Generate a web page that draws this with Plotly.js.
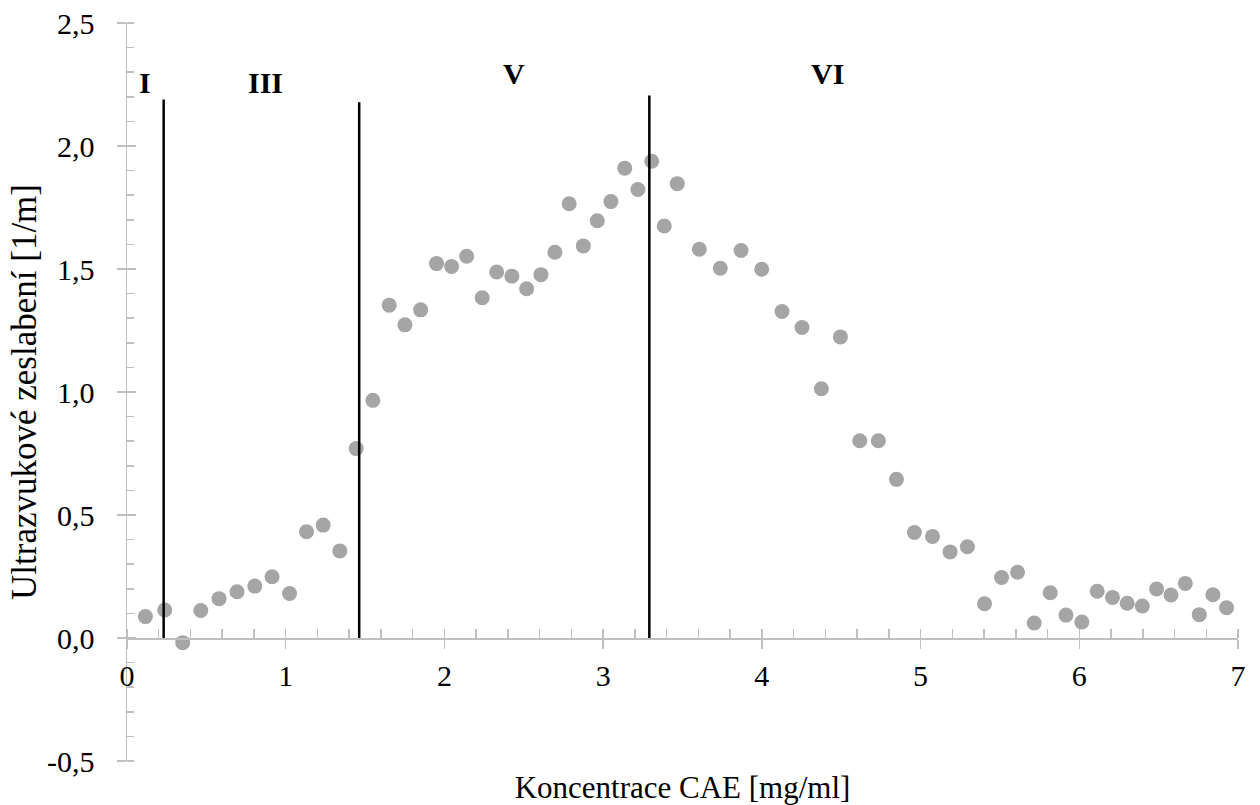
<!DOCTYPE html>
<html><head><meta charset="utf-8">
<script src="https://cdn.plot.ly/plotly-3.0.1.min.js"></script>
<style>html,body{margin:0;padding:0;background:#fff}</style>
</head><body><div id="chart" style="width:1260px;height:805px"></div>
<script>
const concentration = [0.116,0.238,0.351,0.465,0.580,0.693,0.805,0.914,1.024,1.131,1.236,1.341,1.444,1.549,
  1.652,1.751,1.850,1.950,2.045,2.140,2.238,2.329,2.425,2.518,2.608,2.696,2.786,2.875,2.963,3.049,3.136,3.219,3.306,3.385,3.467,
  3.606,3.738,3.869,3.999,4.127,4.253,4.375,4.495,4.617,4.734,4.848,4.961,5.075,5.186,
  5.295,5.403,5.510,5.611,5.716,5.817,5.916,6.016,6.113,6.209,6.302,6.397,6.487,6.578,6.668,6.756,6.842,6.928];
const attenuation = [0.087,0.114,-0.019,0.112,0.160,0.188,0.211,0.249,0.181,0.432,0.459,0.354,0.770,0.966,
  1.353,1.273,1.334,1.522,1.510,1.552,1.383,1.488,1.471,1.420,1.477,1.568,1.765,1.594,1.696,1.774,1.910,1.823,1.938,1.675,1.847,
  1.580,1.503,1.575,1.499,1.327,1.262,1.013,1.224,0.802,0.802,0.645,0.429,0.413,0.350,
  0.371,0.139,0.246,0.267,0.061,0.184,0.093,0.065,0.190,0.165,0.141,0.130,0.199,0.175,0.222,0.095,0.176,0.123];
const boundaryX = [0.231, 1.463, 3.291];
const boundaryTop = [2.189, 2.178, 2.205];
const regionLabels = ['I', 'III', 'V', 'VI'];
const regionLabelX = [0.113, 0.874, 2.438, 4.411];
const regionLabelY = [2.26, 2.26, 2.295, 2.295];
const xTickVals = [0, 1, 2, 3, 4, 5, 6, 7];
const xTickText = ['0', '1', '2', '3', '4', '5', '6', '7'];
const yTickVals = [-0.5, 0, 0.5, 1, 1.5, 2, 2.5];
const yTickText = ['-0,5', '0,0', '0,5', '1,0', '1,5', '2,0', '2,5'];
const xTitle = 'Koncentrace CAE [mg/ml]';
const yTitle = 'Ultrazvukové zeslabení [1/m]';

const FONT = '"Liberation Serif", "Times New Roman", serif';
const AX = '#bfbfbf';
const xPos = 0.5 / 3;

const traces = [
  {type: 'scatter', mode: 'markers', x: concentration, y: attenuation,
   marker: {size: 15, color: '#a5a5a5'}, cliponaxis: false, showlegend: false, hoverinfo: 'x+y'},
  {type: 'scatter', mode: 'markers', x: [], y: [], xaxis: 'x3', yaxis: 'y', showlegend: false, hoverinfo: 'skip'},
  {type: 'scatter', mode: 'markers', x: [], y: [], xaxis: 'x', yaxis: 'y2', showlegend: false, hoverinfo: 'skip'}
];

const shapes = boundaryX.map((bx, i) => ({
  type: 'line', xref: 'x', yref: 'y',
  x0: bx, x1: bx, y0: 0, y1: boundaryTop[i],
  line: {color: '#000000', width: 2.5}
}));

const annotations = regionLabels.map((t, i) => ({
  xref: 'x', yref: 'y', x: regionLabelX[i], y: regionLabelY[i],
  text: '<b>' + t + '</b>', showarrow: false,
  font: {family: FONT, size: 30, color: '#000'}
}));

const layout = {
  width: 1260, height: 805,
  margin: {l: 127, r: 22, t: 23, b: 44},
  paper_bgcolor: '#fff', plot_bgcolor: '#fff',
  separators: ', ',
  font: {family: FONT, size: 30, color: '#000'},
  showlegend: false,
  xaxis: {
    range: [0, 7], anchor: 'free', position: xPos,
    showline: true, linecolor: AX, linewidth: 1.5,
    ticks: 'outside', ticklen: 9, tickwidth: 1.5, tickcolor: AX,
    tickmode: 'array', tickvals: xTickVals, ticktext: xTickText,
    minor: {ticks: 'inside', dtick: 0.2, tick0: 0, ticklen: 9, tickwidth: 1.5, tickcolor: AX, showgrid: false},
    showgrid: false, zeroline: false,
    tickfont: {family: FONT, size: 30, color: '#000'},
    ticklabelstandoff: 1,
    title: {text: xTitle, font: {family: FONT, size: 31, color: '#000'}, standoff: 95}
  },
  xaxis3: {
    range: [0, 7], overlaying: 'x', anchor: 'free', position: xPos,
    showline: false, ticks: 'inside', ticklen: 9, tickwidth: 1.5, tickcolor: AX,
    tickmode: 'array', tickvals: xTickVals, showticklabels: false, showgrid: false, zeroline: false
  },
  yaxis: {
    range: [-0.5, 2.5], domain: [0, 1], anchor: 'x',
    showline: true, linecolor: AX, linewidth: 1.5,
    ticks: 'outside', ticklen: 9, tickwidth: 1.5, tickcolor: AX,
    tickmode: 'array', tickvals: yTickVals, ticktext: yTickText,
    minor: {ticks: 'inside', dtick: 0.1, tick0: 0, ticklen: 7, tickwidth: 1.5, tickcolor: AX, showgrid: false},
    showgrid: false, zeroline: false,
    tickfont: {family: FONT, size: 30, color: '#000'},
    ticklabelstandoff: 16,
    title: {text: yTitle, font: {family: FONT, size: 35, color: '#000'}, standoff: 0}
  },
  yaxis2: {
    range: [-0.5, 2.5], overlaying: 'y', anchor: 'x', side: 'left',
    showline: false, ticks: 'inside', ticklen: 9, tickwidth: 1.5, tickcolor: AX,
    tickmode: 'array', tickvals: yTickVals, showticklabels: false, showgrid: false, zeroline: false
  },
  shapes: shapes,
  annotations: annotations
};

Plotly.newPlot('chart', traces, layout, {staticPlot: true, displayModeBar: false});
</script>
</body></html>
